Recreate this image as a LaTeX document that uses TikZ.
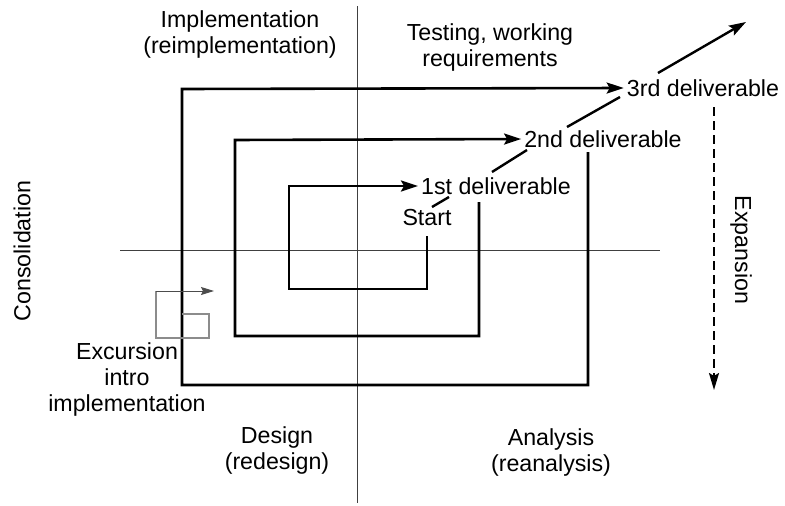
\documentclass[tikz,border=0pt]{standalone}
\usepackage{fontspec}
\setmainfont{Liberation Sans}
\usetikzlibrary{arrows.meta}
\begin{document}
\begin{tikzpicture}[x=1pt,y=-1pt,
  lbl/.style={inner sep=0pt, align=center, font=\fontsize{23.2}{26}\selectfont},
  axis/.style={line width=1pt, draw=black!75},
  spiral/.style={line width=2.6pt, line join=miter},
  tip/.style={-{Stealth[length=17pt,width=11pt,inset=3pt]}},
  diag/.style={line width=2.4pt},
  excur/.style={line width=1.2pt, draw=black!45}]
\useasboundingbox (0,0) rectangle (785,506);
% axes
\coordinate (vt) at (357,6);
\coordinate (vb) at (357,503);
\coordinate (hl) at (120,250);
\coordinate (hr) at (660,250);
\draw[axis] (vt) -- (vb);
\draw[axis] (hl) -- (hr);
% labels
\node[lbl] (impl) at (240,35) {Implementation\\(reimplementation)};
\node[lbl] (test) at (490,48) {Testing, working\\requirements};
\node[lbl] (design) at (277,450) {Design\\(redesign)};
\node[lbl] (anal) at (551,452) {Analysis\\(reanalysis)};
\node[lbl, rotate=90] (cons) at (22,251) {Consolidation};
\node[lbl, rotate=-90] (exp) at (741,250) {Expansion};
\node[lbl] (exc) at (127,379) {Excursion\\intro\\implementation};
\node[lbl] (start) at (427,218) {Start};
\node[lbl, inner xsep=3pt] (d1) at (496,186) {1st deliverable};
\node[lbl, inner xsep=3pt] (d2) at (603,139) {2nd deliverable};
\node[lbl, inner xsep=3pt] (d3) at (703,88) {3rd deliverable};
% spiral
\coordinate (s0) at (427,236);
\coordinate (m0) at (479,202);
\coordinate (o0) at (588,152);
\draw[spiral, tip] (s0) -- (427,289) -- (289,289) -- (289,186) -- (d1.west);
\draw[spiral, tip] (m0) -- (479,336) -- (235,336) -- (235,140) -- (d2.west);
\draw[spiral, tip] (o0) -- (588,385) -- (182,385) -- (182,89) -- (d3.west);
% diagonals
\coordinate (a1) at (432,207); \coordinate (a2) at (449,197);
\coordinate (b1) at (492,172); \coordinate (b2) at (527,150);
\coordinate (c1) at (567,127); \coordinate (c2) at (620,97);
\coordinate (e1) at (658,73); \coordinate (e2) at (746,22);
\draw[diag] (a1) -- (a2);
\draw[diag] (b1) -- (b2);
\draw[diag] (c1) -- (c2);
\draw[diag, tip] (e1) -- (e2);
% expansion dashed arrow
\coordinate (x1) at (714,107);
\coordinate (x2) at (714,390);
\draw[line width=2pt, dash pattern=on 9pt off 5pt, -{Stealth[length=17pt,width=10pt,inset=3pt]}] (x1) -- (x2);
% excursion
\draw[excur] (156,291) -- (156,338) -- (209,338) -- (209,314) -- (182,314);
\coordinate (q1) at (156,291);
\coordinate (q2) at (214,291);
\draw[line width=1pt, draw=black!70, -{Stealth[length=13pt,width=8pt,inset=2pt]}] (q1) -- (q2);
\end{tikzpicture}
\end{document}
